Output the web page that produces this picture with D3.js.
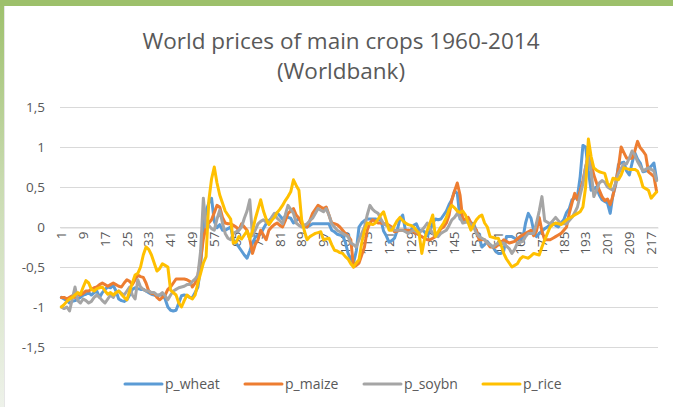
<!DOCTYPE html>
<html><head><meta charset="utf-8">
<script src="https://cdn.jsdelivr.net/npm/d3@7"></script>
<style>
html,body{margin:0;padding:0;background:#fff;}
svg{display:block;font-family:"Open Sans","DejaVu Sans",sans-serif;}
</style></head>
<body><svg id="c" width="673" height="407"></svg>
<script>
const title1 = "World prices of main crops 1960-2014";
const title2 = "(Worldbank)";
const seriesNames = ["p_wheat","p_maize","p_soybn","p_rice"];
const seriesColors = ["#5B9BD5","#ED7D31","#A5A5A5","#FFC000"];
const yTicks = [-1.5,-1,-0.5,0,0.5,1,1.5];
const xLabelStep = 8;

const p_wheat = [
-0.88,-0.90,-0.92,-0.95,-0.93,-0.92,-0.90,-0.88,-0.85,-0.84,
-0.82,-0.85,-0.82,-0.80,-0.88,-0.82,-0.78,-0.75,-0.76,-0.73,
-0.80,-0.90,-0.92,-0.93,-0.91,-0.85,-0.78,-0.76,-0.77,-0.78,
-0.78,-0.80,-0.82,-0.84,-0.85,-0.86,-0.85,-0.85,-0.90,-1.00,
-1.04,-1.05,-1.04,-0.95,-0.86,-0.85,-0.86,-0.88,-0.88,-0.82,
-0.75,-0.50,0.00,0.20,0.30,0.36,0.07,-0.01,0.03,-0.04,
-0.04,-0.02,0.00,-0.16,-0.20,-0.25,-0.30,-0.35,-0.39,-0.30,
-0.20,-0.13,-0.10,-0.09,-0.02,0.04,0.08,0.11,0.15,0.18,
0.14,0.10,0.13,0.12,0.11,0.05,0.08,0.11,0.05,0.00,
0.00,0.02,0.04,0.04,0.04,0.04,0.04,0.04,0.04,-0.04,
-0.06,-0.09,-0.10,-0.11,-0.19,-0.33,-0.40,-0.45,-0.30,0.00,
0.05,0.08,0.10,0.10,0.10,0.10,0.09,0.09,-0.05,-0.11,
-0.19,-0.17,-0.14,-0.04,0.10,0.15,-0.04,-0.04,-0.04,0.02,
0.04,-0.04,-0.04,-0.06,-0.11,-0.05,0.05,0.10,0.09,0.10,
0.15,0.20,0.28,0.34,0.45,0.42,0.10,0.09,0.07,0.06,
0.05,0.04,-0.05,-0.12,-0.25,-0.22,-0.18,-0.22,-0.25,-0.30,
-0.33,-0.33,-0.30,-0.12,-0.12,-0.12,-0.14,-0.16,-0.15,-0.14,
0.05,0.17,0.11,-0.05,-0.12,-0.08,-0.05,-0.02,0.00,0.03,
0.05,0.02,0.00,0.05,0.09,0.18,0.23,0.34,0.36,0.38,
0.63,1.02,1.00,0.70,0.46,0.48,0.50,0.40,0.34,0.32,
0.30,0.17,0.40,0.52,0.78,0.80,0.81,0.70,0.65,0.80,
0.93,0.85,0.80,0.69,0.70,0.73,0.76,0.80,0.59];

const p_maize = [
-0.88,-0.88,-0.90,-0.88,-0.86,-0.88,-0.85,-0.85,-0.83,-0.80,
-0.80,-0.78,-0.76,-0.75,-0.72,-0.70,-0.72,-0.74,-0.72,-0.70,
-0.72,-0.74,-0.75,-0.70,-0.66,-0.68,-0.72,-0.66,-0.60,-0.62,
-0.63,-0.70,-0.80,-0.83,-0.83,-0.88,-0.91,-0.88,-0.85,-0.78,
-0.75,-0.70,-0.65,-0.65,-0.65,-0.65,-0.66,-0.68,-0.75,-0.70,
-0.60,-0.40,-0.15,0.00,0.05,0.09,0.18,0.27,0.25,0.12,
0.05,0.04,0.04,0.02,0.00,-0.04,0.04,0.00,-0.04,-0.15,
-0.33,-0.22,-0.16,-0.04,-0.10,-0.16,-0.04,0.00,0.03,0.05,
0.02,0.00,0.08,0.17,0.20,0.23,0.15,0.11,0.04,0.02,
0.00,0.08,0.17,0.22,0.27,0.25,0.23,0.25,0.15,0.05,
0.04,0.03,0.00,-0.04,-0.08,-0.11,-0.16,-0.50,-0.48,-0.45,
-0.35,-0.25,-0.04,0.05,0.09,0.07,0.05,0.05,0.04,0.04,
0.02,0.00,-0.06,-0.05,-0.04,-0.04,-0.04,-0.04,-0.05,-0.06,
-0.08,-0.10,-0.12,-0.14,-0.16,-0.16,-0.14,-0.12,-0.08,-0.02,
0.00,0.05,0.15,0.34,0.45,0.55,0.40,0.09,0.10,0.12,
0.05,0.00,-0.04,-0.16,-0.16,-0.16,-0.20,-0.25,-0.25,-0.25,
-0.22,-0.20,-0.16,-0.18,-0.20,-0.19,-0.18,-0.15,-0.12,-0.10,
-0.08,-0.06,-0.04,-0.11,-0.05,0.12,-0.05,-0.16,-0.16,-0.16,
-0.14,-0.12,-0.10,-0.08,-0.04,0.00,0.17,0.30,0.42,0.34,
0.45,0.58,0.75,0.90,0.80,0.65,0.55,0.46,0.38,0.33,
0.35,0.28,0.39,0.55,0.74,1.00,0.93,0.86,0.86,0.86,
0.95,1.07,0.99,0.95,0.90,0.69,0.66,0.63,0.44];

const p_soybn = [
-1.00,-1.02,-1.00,-1.05,-0.90,-0.75,-0.92,-0.95,-0.90,-0.92,
-0.95,-0.93,-0.88,-0.85,-0.88,-0.92,-0.95,-0.90,-0.85,-0.88,
-0.82,-0.80,-0.83,-0.85,-0.80,-0.75,-0.85,-0.90,-0.66,-0.75,
-0.78,-0.80,-0.80,-0.82,-0.82,-0.85,-0.85,-0.82,-0.86,-0.91,
-0.85,-0.80,-0.78,-0.76,-0.75,-0.74,-0.72,-0.72,-0.68,-0.65,
-0.60,-0.30,0.36,0.00,0.02,-0.02,-0.04,0.10,0.21,0.05,
-0.08,-0.14,-0.16,-0.08,-0.06,-0.04,0.00,0.11,0.20,0.34,
-0.11,-0.04,0.04,0.07,0.09,0.06,0.04,0.12,0.17,0.11,
0.08,0.04,0.15,0.27,0.22,0.17,0.05,0.02,0.00,0.02,
0.04,0.08,0.11,0.17,0.23,0.21,0.19,0.23,0.15,0.04,
0.00,-0.04,-0.06,-0.08,-0.10,-0.12,-0.20,-0.22,-0.25,-0.16,
-0.08,0.00,0.15,0.27,0.22,0.19,0.17,0.10,0.04,0.02,
0.00,-0.02,-0.04,-0.04,-0.04,-0.04,-0.06,-0.08,-0.06,-0.04,
-0.06,-0.08,-0.04,0.00,0.05,-0.02,-0.08,-0.10,-0.12,-0.08,
-0.06,-0.04,0.02,0.09,0.12,0.17,0.12,0.05,0.06,0.07,
0.03,0.00,-0.08,-0.12,-0.14,-0.16,-0.20,-0.22,-0.25,-0.22,
-0.20,-0.20,-0.20,-0.24,-0.27,-0.33,-0.28,-0.20,-0.19,-0.18,
-0.12,-0.08,-0.08,-0.08,0.05,0.20,0.38,0.08,0.06,0.04,
0.08,0.12,0.08,0.04,0.04,0.04,0.08,0.12,0.18,0.25,
0.40,0.54,0.75,0.88,0.70,0.38,0.46,0.55,0.58,0.56,
0.50,0.48,0.46,0.55,0.67,0.73,0.79,0.79,0.86,0.95,
0.90,0.82,0.76,0.70,0.72,0.74,0.72,0.70,0.58];

const p_rice = [
-1.00,-0.97,-0.93,-0.90,-0.88,-0.85,-0.82,-0.84,-0.75,-0.67,
-0.70,-0.78,-0.80,-0.77,-0.76,-0.75,-0.80,-0.84,-0.82,-0.85,
-0.82,-0.80,-0.84,-0.88,-0.91,-0.80,-0.70,-0.60,-0.58,-0.50,
-0.35,-0.25,-0.28,-0.35,-0.45,-0.55,-0.52,-0.46,-0.48,-0.50,
-0.79,-0.82,-0.85,-0.95,-1.00,-0.92,-0.85,-0.88,-0.90,-0.85,
-0.70,-0.58,-0.45,-0.37,0.33,0.60,0.75,0.55,0.40,0.30,
0.20,0.15,0.10,-0.20,-0.19,-0.12,-0.15,-0.10,-0.05,-0.15,
-0.05,0.10,0.22,0.34,0.20,0.10,0.03,0.08,0.12,0.18,
0.22,0.27,0.33,0.38,0.44,0.59,0.52,0.46,0.09,-0.05,
-0.16,-0.12,-0.10,-0.08,-0.07,-0.06,-0.16,-0.15,-0.14,-0.22,
-0.29,-0.30,-0.32,-0.33,-0.37,-0.40,-0.46,-0.50,-0.45,-0.41,
-0.20,-0.04,0.05,0.04,0.03,0.05,0.10,0.15,0.19,0.08,
-0.04,-0.04,0.02,0.08,0.12,0.08,0.05,0.03,0.02,0.00,
-0.04,-0.08,-0.33,-0.15,-0.04,0.05,0.15,-0.12,-0.06,0.00,
0.05,0.12,0.22,0.27,0.24,0.20,0.18,0.20,0.15,0.05,
-0.04,0.03,0.09,0.13,0.15,0.05,0.00,-0.12,-0.13,-0.14,
-0.14,-0.22,-0.33,-0.40,-0.45,-0.50,-0.48,-0.46,-0.40,-0.37,
-0.38,-0.39,-0.36,-0.33,-0.34,-0.35,-0.25,-0.16,-0.08,0.00,
0.03,0.05,0.04,0.03,0.06,0.09,0.11,0.13,0.15,0.17,
0.19,0.25,0.50,1.10,0.88,0.74,0.71,0.69,0.68,0.67,
0.55,0.50,0.61,0.60,0.59,0.65,0.74,0.73,0.72,0.72,
0.72,0.70,0.62,0.50,0.48,0.46,0.36,0.40,0.44];

const seriesValues = [p_wheat, p_maize, p_soybn, p_rice];
const categories = d3.range(1, p_wheat.length + 1);
const xLabels = categories.filter(c => (c - 1) % xLabelStep === 0);

const svg = d3.select("#c");
const W = 673, H = 407;
const defs = svg.append("defs");
const g1 = defs.append("linearGradient").attr("id","lg").attr("x1",0).attr("y1",0).attr("x2",0).attr("y2",1);
g1.append("stop").attr("offset","0%").attr("stop-color","#9DC06B");
g1.append("stop").attr("offset","45%").attr("stop-color","#C9DBB0");
g1.append("stop").attr("offset","100%").attr("stop-color","#EEF2EA");

svg.append("rect").attr("width",W).attr("height",H).attr("fill","#fff");
svg.append("rect").attr("x",0).attr("y",0).attr("width",4).attr("height",H).attr("fill","url(#lg)");
svg.append("rect").attr("x",0).attr("y",0).attr("width",W).attr("height",6).attr("fill","#9DC06B");
svg.append("line").attr("x1",4.5).attr("x2",4.5).attr("y1",6).attr("y2",H).attr("stroke","#E6E6E6");

const x = d3.scaleBand().domain(categories).range([60, 658]).padding(0);
const y = d3.scaleLinear().domain([-1.5, 1.5]).range([347, 107]);
const cx = c => x(c) + x.bandwidth()/2;

// gridlines
svg.append("g").selectAll("line").data(yTicks).join("line")
  .attr("x1",60).attr("x2",658)
  .attr("y1",d=>Math.round(y(d))+0.5).attr("y2",d=>Math.round(y(d))+0.5)
  .attr("stroke","#D9D9D9").attr("stroke-width",1);

const fmt = v => String(v).replace(".", ",");
// y axis
const yAxis = svg.append("g").attr("transform","translate(60,0)")
  .call(d3.axisLeft(y).tickValues(yTicks).tickFormat(fmt).tickSize(0).tickPadding(15));
yAxis.select(".domain").remove();
yAxis.selectAll("text").attr("fill","#595959").attr("font-size","13.5px")
  .attr("font-family","'Open Sans',sans-serif");

// x axis at zero
const xAxis = svg.append("g").attr("transform",`translate(0,${Math.round(y(0))+0.5})`)
  .call(d3.axisBottom(x).tickValues(xLabels).tickSize(0).tickPadding(0));
xAxis.select(".domain").attr("stroke","#D9D9D9");
xAxis.selectAll("text")
  .attr("fill","#595959").attr("font-size","13.5px").attr("font-family","'Open Sans',sans-serif")
  .attr("text-anchor","end").attr("dy","0.35em")
  .attr("transform","translate(0,4) rotate(-90)").attr("x",0).attr("y",0);

// lines
const line = d3.line().x((d,i)=>cx(categories[i])).y(d=>y(d)).curve(d3.curveLinear);
svg.append("g").selectAll("path").data(seriesValues).join("path")
  .attr("d", d=>line(d)).attr("fill","none")
  .attr("stroke",(d,i)=>seriesColors[i]).attr("stroke-width",3)
  .attr("stroke-linejoin","round").attr("stroke-linecap","round");

// title
svg.append("text").attr("x",341).attr("y",49).attr("text-anchor","middle")
  .attr("fill","#595959").attr("font-size","22.5px").text(title1);
svg.append("text").attr("x",341).attr("y",79).attr("text-anchor","middle")
  .attr("fill","#595959").attr("font-size","22.5px").text(title2);

// legend
const legX = [125, 245, 364, 483];
const lg = svg.append("g").selectAll("g").data(seriesNames).join("g")
  .attr("transform",(d,i)=>`translate(${legX[i]},384)`);
lg.append("line").attr("x1",0).attr("x2",37).attr("y1",0).attr("y2",0)
  .attr("stroke",(d,i)=>seriesColors[i]).attr("stroke-width",3).attr("stroke-linecap","round");
lg.append("text").attr("x",40).attr("y",0).attr("dy","0.35em")
  .attr("fill","#595959").attr("font-size","14px").text(d=>d);
</script></body></html>
